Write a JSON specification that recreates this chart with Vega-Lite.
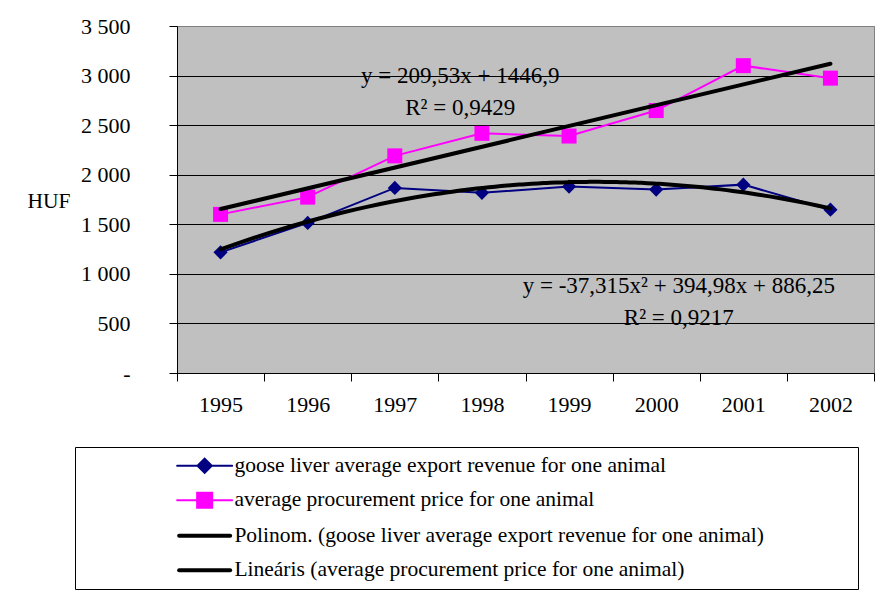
{
  "$schema": "https://vega.github.io/schema/vega-lite/v6.json",
  "width": 697,
  "height": 347,
  "autosize": {"type": "none"},
  "padding": {"left": 177, "top": 26, "right": 16, "bottom": 219},
  "background": "white",
  "config": {
    "view": {"fill": "#c0c0c0", "stroke": "#808080", "strokeWidth": 1},
    "font": "Liberation Serif"
  },
  "datasets": {
    "main": [
      {"year": 1995, "value": 1217, "series": "goose liver average export revenue for one animal", "trend": "Polinom. (goose liver average export revenue for one animal)"},
      {"year": 1996, "value": 1514, "series": "goose liver average export revenue for one animal", "trend": "Polinom. (goose liver average export revenue for one animal)"},
      {"year": 1997, "value": 1867, "series": "goose liver average export revenue for one animal", "trend": "Polinom. (goose liver average export revenue for one animal)"},
      {"year": 1998, "value": 1817, "series": "goose liver average export revenue for one animal", "trend": "Polinom. (goose liver average export revenue for one animal)"},
      {"year": 1999, "value": 1880, "series": "goose liver average export revenue for one animal", "trend": "Polinom. (goose liver average export revenue for one animal)"},
      {"year": 2000, "value": 1850, "series": "goose liver average export revenue for one animal", "trend": "Polinom. (goose liver average export revenue for one animal)"},
      {"year": 2001, "value": 1900, "series": "goose liver average export revenue for one animal", "trend": "Polinom. (goose liver average export revenue for one animal)"},
      {"year": 2002, "value": 1647, "series": "goose liver average export revenue for one animal", "trend": "Polinom. (goose liver average export revenue for one animal)"},
      {"year": 1995, "value": 1600, "series": "average procurement price for one animal", "trend": "Lineáris (average procurement price for one animal)"},
      {"year": 1996, "value": 1774, "series": "average procurement price for one animal", "trend": "Lineáris (average procurement price for one animal)"},
      {"year": 1997, "value": 2190, "series": "average procurement price for one animal", "trend": "Lineáris (average procurement price for one animal)"},
      {"year": 1998, "value": 2417, "series": "average procurement price for one animal", "trend": "Lineáris (average procurement price for one animal)"},
      {"year": 1999, "value": 2390, "series": "average procurement price for one animal", "trend": "Lineáris (average procurement price for one animal)"},
      {"year": 2000, "value": 2647, "series": "average procurement price for one animal", "trend": "Lineáris (average procurement price for one animal)"},
      {"year": 2001, "value": 3100, "series": "average procurement price for one animal", "trend": "Lineáris (average procurement price for one animal)"},
      {"year": 2002, "value": 2974, "series": "average procurement price for one animal", "trend": "Lineáris (average procurement price for one animal)"}
    ]
  },
  "layer": [
    {
      "data": {"name": "main"},
      "mark": {"type": "line", "strokeWidth": 2},
      "encoding": {
        "x": {
          "field": "year", "type": "quantitative",
          "scale": {"domain": [1994.5, 2002.5], "nice": false, "zero": false},
          "axis": {
            "values": [1994.5, 1995.5, 1996.5, 1997.5, 1998.5, 1999.5, 2000.5, 2001.5, 2002.5],
            "title": null, "grid": false, "tickSize": 8, "tickColor": "black", "domainColor": "black",
            "labelExpr": "datum.value < 2002.4 ? toString(datum.value + 0.5) : ''",
            "labelOffset": 43.5, "labelPadding": 13, "labelFont": "Liberation Serif", "labelFontSize": 22,
            "labelColor": "black", "labelFlush": false, "labelOverlap": false, "labelBound": false
          }
        },
        "y": {
          "field": "value", "type": "quantitative",
          "scale": {"domain": [0, 3500], "nice": false, "zero": true},
          "axis": {
            "values": [0, 500, 1000, 1500, 2000, 2500, 3000, 3500],
            "title": "HUF", "titleAngle": 0, "titleX": -150, "titleY": 175, "titleAlign": "left",
            "titleBaseline": "middle", "titleFont": "Liberation Serif", "titleFontSize": 21.5,
            "titleFontWeight": "normal", "titleColor": "black",
            "grid": true,
            "gridColor": {"condition": {"test": "datum.value === 3500", "value": "#808080"}, "value": "#000000"},
            "gridOpacity": 1, "gridWidth": 1,
            "tickSize": 8, "tickColor": "black", "domainColor": "black",
            "labelPadding": 39, "labelFont": "Liberation Serif", "labelFontSize": 22, "labelColor": "black",
            "labelExpr": "datum.value === 0 ? '-' : replace(format(datum.value, ','), ',', ' ')",
            "labelFlush": false, "labelOverlap": false
          }
        },
        "color": {
          "field": "series", "type": "nominal",
          "scale": {
            "domain": ["goose liver average export revenue for one animal", "average procurement price for one animal", "Polinom. (goose liver average export revenue for one animal)", "Lineáris (average procurement price for one animal)"],
            "range": ["#000080", "#ff00ff", "#000000", "#000000"]
          },
          "legend": {
            "title": "\u00a0", "titleOrient": "right", "titlePadding": 86, "titleFontSize": 20,
            "orient": "none", "legendX": -102, "legendY": 421, "direction": "vertical",
            "padding": 8, "strokeColor": "black", "fillColor": "white",
            "labelFont": "Liberation Serif", "labelFontSize": 21.5, "labelColor": "black", "labelLimit": 2000,
            "symbolOffset": 110.9, "labelOffset": 19, "rowPadding": 11.5, "symbolSize": 225,
            "encode": {
              "symbols": {
                "update": {
                  "shape": {"signal": "datum.value === 'goose liver average export revenue for one animal' ? 'M-3.667,0L3.667,0M0,-0.95L0.95,0L0,0.95L-0.95,0Z' : datum.value === 'average procurement price for one animal' ? 'M-3.667,0L3.667,0M-1,-1L1,-1L1,1L-1,1Z' : 'M-3.4,0L3.4,0'"},
                  "fill": {"signal": "datum.value === 'goose liver average export revenue for one animal' ? '#000080' : datum.value === 'average procurement price for one animal' ? '#ff00ff' : 'transparent'"},
                  "stroke": {"signal": "datum.value === 'goose liver average export revenue for one animal' ? '#000080' : datum.value === 'average procurement price for one animal' ? '#ff00ff' : '#000000'"},
                  "strokeWidth": {"signal": "datum.value === 'goose liver average export revenue for one animal' || datum.value === 'average procurement price for one animal' ? 2 : 4"},
                  "strokeCap": {"value": "round"},
                  "size": {"value": 225},
                  "opacity": {"value": 1}
                }
              }
            }
          }
        }
      }
    },
    {
      "data": {"name": "main"},
      "mark": {"type": "point", "filled": true, "size": 225, "opacity": 1},
      "encoding": {
        "x": {"field": "year", "type": "quantitative"},
        "y": {"field": "value", "type": "quantitative"},
        "color": {"field": "series", "type": "nominal"},
        "shape": {
          "field": "series", "type": "nominal",
          "scale": {
            "domain": ["goose liver average export revenue for one animal", "average procurement price for one animal"],
            "range": ["M0,-0.95L0.95,0L0,0.95L-0.95,0Z", "M-1,-1L1,-1L1,1L-1,1Z"]
          },
          "legend": null
        }
      }
    },
    {
      "data": {"name": "main"},
      "transform": [
        {"filter": {"field": "series", "equal": "goose liver average export revenue for one animal"}},
        {"regression": "value", "on": "year", "method": "poly", "order": 2, "groupby": ["trend"]}
      ],
      "mark": {"type": "line", "strokeWidth": 4, "strokeCap": "round"},
      "encoding": {
        "x": {"field": "year", "type": "quantitative"},
        "y": {"field": "value", "type": "quantitative"},
        "color": {"field": "trend", "type": "nominal"}
      }
    },
    {
      "data": {"name": "main"},
      "transform": [
        {"filter": {"field": "series", "equal": "average procurement price for one animal"}},
        {"regression": "value", "on": "year", "method": "linear", "groupby": ["trend"]}
      ],
      "mark": {"type": "line", "strokeWidth": 4, "strokeCap": "round"},
      "encoding": {
        "x": {"field": "year", "type": "quantitative"},
        "y": {"field": "value", "type": "quantitative"},
        "color": {"field": "trend", "type": "nominal"}
      }
    },
    {
      "data": {"values": [{"label": "y = 209,53x + 1446,9"}]},
      "mark": {"type": "text", "align": "center", "baseline": "alphabetic", "fontSize": 23, "fill": "black"},
      "encoding": {
        "x": {"datum": 1997.75, "type": "quantitative"},
        "y": {"datum": 2923, "type": "quantitative"},
        "text": {"field": "label", "type": "nominal"}
      }
    },
    {
      "data": {"values": [{"label": "R² = 0,9429"}]},
      "mark": {"type": "text", "align": "center", "baseline": "alphabetic", "fontSize": 23, "fill": "black"},
      "encoding": {
        "x": {"datum": 1997.75, "type": "quantitative"},
        "y": {"datum": 2603, "type": "quantitative"},
        "text": {"field": "label", "type": "nominal"}
      }
    },
    {
      "data": {"values": [{"label": "y = -37,315x² + 394,98x + 886,25"}]},
      "mark": {"type": "text", "align": "center", "baseline": "alphabetic", "fontSize": 23, "fill": "black"},
      "encoding": {
        "x": {"datum": 2000.26, "type": "quantitative"},
        "y": {"datum": 806, "type": "quantitative"},
        "text": {"field": "label", "type": "nominal"}
      }
    },
    {
      "data": {"values": [{"label": "R² = 0,9217"}]},
      "mark": {"type": "text", "align": "center", "baseline": "alphabetic", "fontSize": 23, "fill": "black"},
      "encoding": {
        "x": {"datum": 2000.26, "type": "quantitative"},
        "y": {"datum": 480, "type": "quantitative"},
        "text": {"field": "label", "type": "nominal"}
      }
    }
  ]
}
